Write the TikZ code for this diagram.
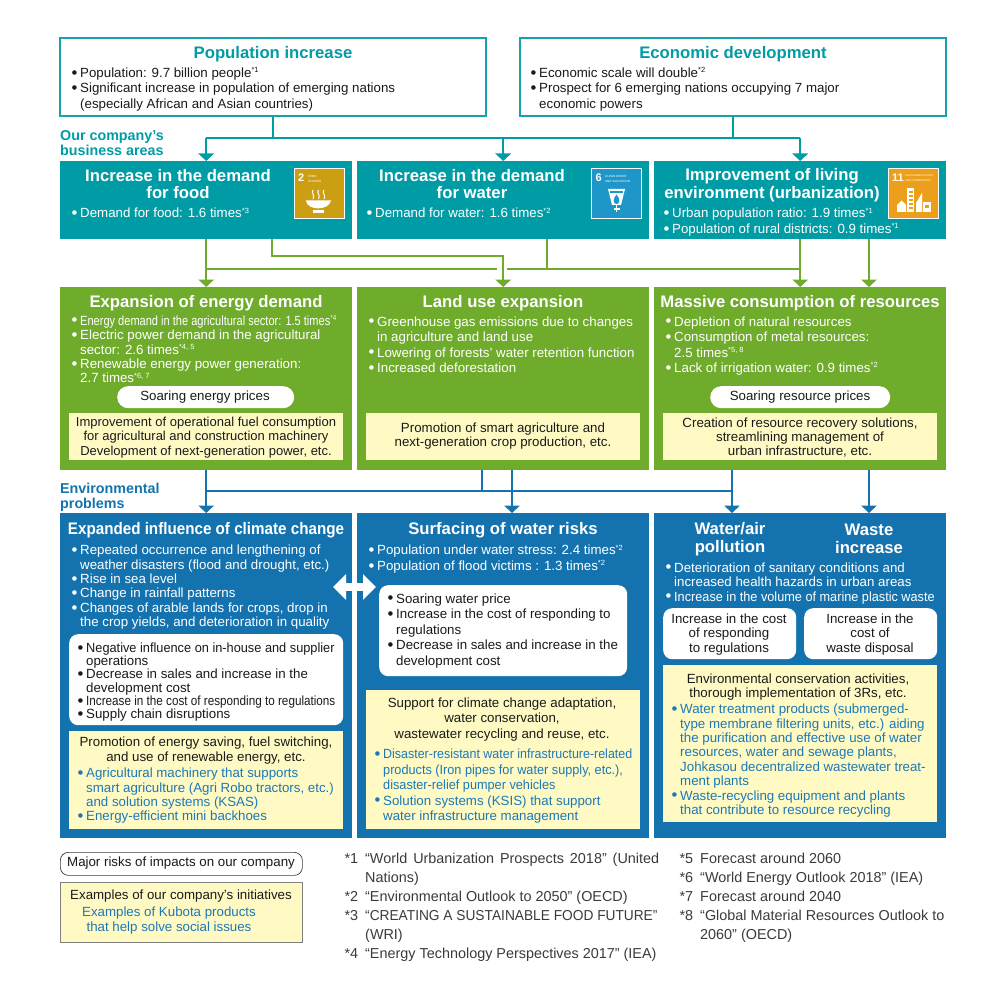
\documentclass[tikz,border=0pt]{standalone}
\usepackage{fontspec}
\setmainfont{Liberation Sans}
\usetikzlibrary{arrows.meta,calc}
\lineskiplimit=-20pt
\definecolor{TealFill}{HTML}{009CA6}
\definecolor{TealLine}{HTML}{15A2AB}
\definecolor{LeafFill}{HTML}{6FAC2B}
\definecolor{SeaFill}{HTML}{1473AF}
\definecolor{NoteCream}{HTML}{FFFAC4}
\definecolor{ProductBlue}{HTML}{1C79B6}
\definecolor{InkDark}{HTML}{1A1A1A}
\definecolor{InkSoft}{HTML}{3A3A3A}
\definecolor{EdgeGrey}{HTML}{808080}
\definecolor{GoalFood}{HTML}{CC9F12}
\definecolor{GoalWater}{HTML}{1E96C8}
\definecolor{GoalCity}{HTML}{EC9F1B}
\newcommand{\blt}{\strut\makebox[0pt][r]{\raisebox{-0.7pt}{\scalebox{1.25}{\textbullet}}\hspace{2.8pt}}}
\newcommand{\nt}[1]{\smash{\raisebox{4.6pt}{\fontsize{7.5}{7.5}\selectfont *#1}}}
\newcommand{\tight}[2][0.9]{\scalebox{#1}[1]{#2}}
\newcommand{\fnote}[1]{\strut\makebox[0pt][r]{*#1\hspace{7pt}}}
\tikzset{
  headbox/.style={draw=TealLine, line width=2pt, fill=white, anchor=north west, inner sep=0pt, minimum width=426pt, minimum height=78pt},
  bandbox/.style={anchor=north west, inner sep=0pt, minimum width=292pt, fill=#1},
  creambox/.style={anchor=north west, inner sep=0pt, fill=NoteCream},
  pillbox/.style={anchor=north west, inner sep=0pt, fill=white, rounded corners=#1},
  pillbox/.default=9pt,
  goalbox/.style={anchor=north west, inner sep=0pt, draw=white, line width=0.8pt, minimum width=50pt, minimum height=50pt, fill=#1},
  goalnum/.style={font=\fontsize{11}{11}\selectfont\bfseries, text=white, anchor=west, inner sep=0pt},
  goaltext/.style={font=\fontsize{#1}{5}\selectfont, text=white, align=left, anchor=west, inner sep=0pt},
  headline/.style={font=\fontsize{16.7}{17.6}\selectfont\bfseries, align=center, inner sep=0pt},
  arealabel/.style={font=\fontsize{14.3}{15.4}\selectfont\bfseries, align=left, anchor=north west, inner sep=0pt},
  bodytext/.style={font=\fontsize{13.3}{#1}\selectfont, align=left, anchor=north west, inner sep=0pt},
  bodytext/.default=14.4,
  centertext/.style={font=\fontsize{13.3}{#1}\selectfont, align=center, inner sep=0pt, text=InkDark},
  centertext/.default=14.4,
  sourcetext/.style={font=\fontsize{14.4}{19}\selectfont, text=InkSoft, align=left, anchor=north west, inner sep=0pt},
  teallink/.style={draw=TealFill, line width=2pt},
  leaflink/.style={draw=LeafFill, line width=2pt},
  sealink/.style={draw=SeaFill, line width=2pt},
  tiparrow/.style={-{Triangle[width=15.5pt,length=7.5pt]}},
}

\begin{document}
\begin{tikzpicture}[x=1pt,y=-1pt]
    \useasboundingbox (0,0) rectangle (1000,1000);

    \node[headbox] (popbox) at (59,37) {};
    \node[headbox] (econbox) at (519,37) {};
    \node[headline, text=TealFill] (poptitle) at (273,54) {Population increase};
    \node[headline, text=TealFill] (econtitle) at (733,54) {Economic development};
    \node[bodytext=15.4, text=InkDark] (poplist) at (80,66.5) {\blt Population: 9.7 billion people\nt{1}\\\blt Significant increase in population of emerging nations\\(especially African and Asian countries)};
    \node[bodytext=15.4, text=InkDark] (econlist) at (539,66.5) {\blt Economic scale will double\nt{2}\\\blt Prospect for 6 emerging nations occupying 7 major\\economic powers};
    \node[arealabel, text=TealFill] (bizlabel) at (60,130) {Our company’s\\business areas};

    \node[bandbox=TealFill, minimum height=78pt] (foodbox) at (60,161) {};
    \node[bandbox=TealFill, minimum height=78pt] (waterbox) at (357,161) {};
    \node[bandbox=TealFill, minimum height=78pt] (urbanbox) at (654,161) {};
    \node[headline, text=white] (foodtitle) at (178,184) {Increase in the demand\\for food};
    \node[headline, text=white] (watertitle) at (472,184) {Increase in the demand\\for water};
    \node[headline, text=white] (urbantitle) at (772,185) {Improvement of living\\environment (urbanization)};
    \node[bodytext=15.4, text=white] (foodlist) at (80,207) {\blt Demand for food: 1.6 times\nt{3}};
    \node[bodytext=15.4, text=white] (waterlist) at (375,207) {\blt Demand for water: 1.6 times\nt{2}};
    \node[bodytext=15.4, text=white] (urbanlist) at (672,207) {\blt Urban population ratio: 1.9 times\nt{1}\\\blt Population of rural districts: 0.9 times\nt{1}};

    \node[goalbox=GoalFood] (goalfood) at (294,168.5) {};
    \node[goalbox=GoalWater] (goalwater) at (591,168.5) {};
    \node[goalbox=GoalCity] (goalcity) at (888,168.5) {};
    \node[goalnum] (goalfoodnum) at (298,178) {2};
    \node[goaltext=3] (goalfoodtext) at (308,178.5) {ZERO\\HUNGER};
    \node[goalnum] (goalwaternum) at (595.5,178) {6};
    \node[goaltext=3] (goalwatertext) at (605,178.5) {CLEAN WATER\\AND SANITATION};
    \node[goalnum] (goalcitynum) at (892,178) {11};
    \node[goaltext=2.7] (goalcitytext) at (905,178.5) {SUSTAINABLE CITIES\\AND COMMUNITIES};
    \fill[white] (306,200.5) .. controls (307,211) and (329,211) .. (331,200.5) -- cycle;
    \fill[white] (313,210) rectangle (324,213);
    \foreach \sx in {313,318.5,324}
      \draw[white, line width=1pt] (\sx,190) .. controls (\sx-2.5,193) and (\sx+2.5,195) .. (\sx,199);
    \fill[white] (608,189) -- (625,189) -- (621,205) -- (612,205) -- cycle;
    \fill[GoalWater] (610,191) rectangle (623,193);
    \fill[GoalWater] (616.5,194.5) .. controls (612.5,199) and (613,204) .. (616.5,204) .. controls (620,204) and (620.5,199) .. (616.5,194.5) -- cycle;
    \draw[white, line width=1.2pt] (616.5,205) -- (616.5,212) (613.5,209) -- (619.5,209);
    \fill[white] (897,212) -- (897,205) -- (901.5,200.5) -- (906,205) -- (906,212) -- cycle;
    \fill[white] (907,212) rectangle (914,188);
    \foreach \wy in {191,195,199,203,207}
      \fill[GoalCity] (908.5,\wy) rectangle (912.5,\wy+2);
    \fill[white] (916,212) -- (916,203) -- (922,193) -- (922,212) -- cycle;
    \fill[white] (923,212) rectangle (931,202);
    \fill[GoalCity] (925,205) rectangle (929,208);

    \node[bandbox=LeafFill, minimum height=183pt] (energybox) at (60,287) {};
    \node[bandbox=LeafFill, minimum height=183pt] (landbox) at (357,287) {};
    \node[bandbox=LeafFill, minimum height=183pt] (resourcebox) at (654,287) {};
    \node[headline, text=white] (energytitle) at (206,303) {Expansion of energy demand};
    \node[headline, text=white] (landtitle) at (503,303) {Land use expansion};
    \node[headline, text=white] (resourcetitle) at (800,303) {Massive consumption of resources};
    \node[bodytext, text=white] (energylist) at (80,315) {\blt\tight[0.83]{Energy demand in the agricultural sector: 1.5 times\nt{4}}\\\blt Electric power demand in the agricultural\\sector: 2.6 times\nt{4, 5}\\\blt Renewable energy power generation:\\2.7 times\nt{6, 7}};
    \node[bodytext=15.5, text=white] (landlist) at (377,315) {\blt Greenhouse gas emissions due to changes\\in agriculture and land use\\\blt Lowering of forests’ water retention function\\\blt Increased deforestation};
    \node[bodytext=15.5, text=white] (resourcelist) at (674,315) {\blt Depletion of natural resources\\\blt Consumption of metal resources:\\2.5 times\nt{5, 8}\\\blt Lack of irrigation water: 0.9 times\nt{2}};
    \node[pillbox=11pt, minimum width=177pt, minimum height=22pt] (energypill) at (117,386) {};
    \node[pillbox=11pt, minimum width=180pt, minimum height=22pt] (resourcepill) at (710,386) {};
    \node[centertext] (energypilltext) at (205,397) {Soaring energy prices};
    \node[centertext] (resourcepilltext) at (800,397) {Soaring resource prices};
    \node[creambox, minimum width=274pt, minimum height=47pt] (energynote) at (69,413) {};
    \node[creambox, minimum width=274pt, minimum height=47pt] (landnote) at (366,413) {};
    \node[creambox, minimum width=274pt, minimum height=47pt] (resourcenote) at (663,413) {};
    \node[centertext, font=\fontsize{13}{14.4}\selectfont] (energynotetext) at (206,437.5) {Improvement of operational fuel consumption\\for agricultural and construction machinery\\Development of next-generation power, etc.};
    \node[centertext] (landnotetext) at (503,436) {Promotion of smart agriculture and\\next-generation crop production, etc.};
    \node[centertext] (resourcenotetext) at (800,437.5) {Creation of resource recovery solutions,\\streamlining management of\\urban infrastructure, etc.};
    \node[arealabel, text=SeaFill] (envlabel) at (60,482.5) {Environmental\\problems};

    \node[bandbox=SeaFill, minimum height=325pt] (climatebox) at (60,513) {};
    \node[bandbox=SeaFill, minimum height=325pt] (riskbox) at (357,513) {};
    \node[bandbox=SeaFill, minimum height=325pt] (pollutebox) at (654,513) {};
    \node[headline, text=white] (climatetitle) at (206,530) {\tight[0.91]{Expanded influence of climate change}};
    \node[headline, text=white] (risktitle) at (503,530) {Surfacing of water risks};
    \node[headline, text=white] (pollutetitle) at (730,539) {Water/air\\pollution};
    \node[headline, text=white] (wastetitle) at (869,539) {Waste\\increase};
    \node[bodytext, text=white] (climatelist) at (80,544.5) {\blt Repeated occurrence and lengthening of\\weather disasters (flood and drought, etc.)\\\blt Rise in sea level\\\blt Change in rainfall patterns\\\blt Changes of arable lands for crops, drop in\\the crop yields, and deterioration in quality};
    \node[bodytext=15.4, text=white] (risklist) at (377,544) {\blt Population under water stress: 2.4 times\nt{2}\\\blt Population of flood victims : 1.3 times\nt{2}};
    \node[bodytext, text=white] (pollutelist) at (674,562) {\blt Deterioration of sanitary conditions and\\increased health hazards in urban areas\\\blt\tight[0.955]{Increase in the volume of marine plastic waste}};

    \node[pillbox, minimum width=274pt, minimum height=91pt] (climatepill) at (69,634) {};
    \node[pillbox, minimum width=248pt, minimum height=91pt] (riskpill) at (379,585) {};
    \node[pillbox, minimum width=133pt, minimum height=51pt] (pollutepill) at (663,608) {};
    \node[pillbox, minimum width=133pt, minimum height=51pt] (wastepill) at (804,608) {};
    \node[bodytext=13.3, text=InkDark] (climatepilltext) at (86,642.5) {\blt\tight[0.96]{Negative influence on in-house and supplier}\\operations\\\blt Decrease in sales and increase in the\\development cost\\\blt\tight[0.88]{Increase in the cost of responding to regulations}\\\blt Supply chain disruptions};
    \node[bodytext=15.5, text=InkDark] (riskpilltext) at (396,592) {\blt Soaring water price\\\blt Increase in the cost of responding to\\regulations\\\blt Decrease in sales and increase in the\\development cost};
    \node[centertext] (pollutepilltext) at (729,634.5) {Increase in the cost\\of responding\\to regulations};
    \node[centertext] (wastepilltext) at (870,634.5) {Increase in the\\cost of\\waste disposal};

    \node[creambox, minimum width=274pt, minimum height=98pt] (climatenote) at (69,731) {};
    \node[creambox, minimum width=274pt, minimum height=139pt] (risknote) at (366,690) {};
    \node[creambox, minimum width=274pt, minimum height=157pt] (pollutenote) at (663,665) {};
    \node[centertext] (climatenotetext) at (206,750.5) {Promotion of energy saving, fuel switching,\\and use of renewable energy, etc.};
    \node[centertext=15.5] (risknotetext) at (502,719.5) {Support for climate change adaptation,\\water conservation,\\wastewater recycling and reuse, etc.};
    \node[centertext] (pollutenotetext) at (798,687) {Environmental conservation activities,\\thorough implementation of 3Rs, etc.};
    \node[bodytext, text=ProductBlue] (climateitems) at (86,767.5) {\blt Agricultural machinery that supports\\smart agriculture (Agri Robo tractors, etc.)\\and solution systems (KSAS)\\\blt Energy-efficient mini backhoes};
    \node[bodytext=15.5, text=ProductBlue] (riskitems) at (383,747.5) {\blt\tight[0.936]{Disaster-resistant water infrastructure-related}\\\tight[0.955]{products (Iron pipes for water supply, etc.),}\\\tight[0.955]{disaster-relief pumper vehicles}\\\blt Solution systems (KSIS) that support\\water infrastructure management};
    \node[bodytext, text=ProductBlue] (polluteitems) at (680,703.5) {\blt Water treatment products (submerged-\\type membrane filtering units, etc.) aiding\\the purification and effective use of water\\resources, water and sewage plants,\\Johkasou decentralized wastewater treat-\\ment plants\\\blt Waste-recycling equipment and plants\\that contribute to resource recycling};

    \coordinate (climateend) at (333,587);
    \coordinate (riskend) at (376,587);
    \draw[white, line width=8pt, {Triangle[width=25pt,length=13pt]}-{Triangle[width=25pt,length=13pt]}] (climateend) -- (riskend);

    \coordinate (tealbus) at (0,138);
    \draw[teallink] (popbox.south) -- (popbox.south |- tealbus);
    \draw[teallink] (econbox.south) -- (econbox.south |- tealbus);
    \draw[teallink] (foodbox.north |- tealbus) -- (urbanbox.north |- tealbus);
    \draw[teallink, tiparrow] (foodbox.north |- tealbus) -- (foodbox.north);
    \draw[teallink, tiparrow] (waterbox.north |- tealbus) -- (waterbox.north);
    \draw[teallink, tiparrow] (urbanbox.north |- tealbus) -- (urbanbox.north);

    \coordinate (leafbus) at (0,269);
    \coordinate (landbus) at (0,256);
    \coordinate (foodtap) at (272,239);
    \coordinate (watertap) at (547,239);
    \coordinate (urbantap) at (869,239);
    \draw[leaflink, tiparrow] (foodbox.south) -- (energybox.north);
    \draw[leaflink] (foodbox.south |- leafbus) -- ($(landbox.north |- leafbus)+(-6,0)$);
    \draw[leaflink] ($(landbox.north |- leafbus)+(4,0)$) -- (urbanbox.south |- leafbus);
    \draw[leaflink, tiparrow] (foodtap) -- (foodtap |- landbus) -| (landbox.north);
    \draw[leaflink] (watertap) -- (watertap |- leafbus);
    \draw[leaflink, tiparrow] (urbanbox.south) -- (resourcebox.north);
    \draw[leaflink, tiparrow] (urbantap) -- (urbantap |- resourcebox.north);

    \coordinate (seabus) at (0,491);
    \coordinate (landtap) at (482,470);
    \coordinate (landdrop) at (512,470);
    \coordinate (resourcetap) at (732,470);
    \coordinate (wastetap) at (869,470);
    \draw[sealink, tiparrow] (energybox.south) -- (climatebox.north);
    \draw[sealink] (landtap) -- (landtap |- seabus);
    \draw[sealink] (energybox.south |- seabus) -- (resourcetap |- seabus);
    \draw[sealink, tiparrow] (landdrop) -- (landdrop |- riskbox.north);
    \draw[sealink, tiparrow] (resourcetap) -- (resourcetap |- pollutebox.north);
    \draw[sealink, tiparrow] (wastetap) -- (wastetap |- pollutebox.north);

    \node[draw=InkSoft, line width=0.7pt, fill=white, rounded corners=8pt, anchor=north west, inner sep=0pt, minimum width=242pt, minimum height=23pt] (riskkey) at (60,852) {};
    \node[centertext] (riskkeytext) at (181,863) {Major risks of impacts on our company};
    \node[draw=EdgeGrey, line width=0.8pt, fill=NoteCream, anchor=north west, inner sep=0pt, minimum width=242pt, minimum height=60pt] (notekey) at (60,882) {};
    \node[centertext] (notekeytext) at (181,896) {Examples of our company’s initiatives};
    \node[centertext=15.4, text=ProductBlue] (itemkeytext) at (169,920.5) {Examples of Kubota products\\that help solve social issues};

    \node[sourcetext] (notesleft) at (365,850) {\fnote{1}\makebox[294pt][s]{“World Urbanization Prospects 2018” (United}\\Nations)\\\fnote{2}“Environmental Outlook to 2050” (OECD)\\\fnote{3}\tight[0.953]{“CREATING A SUSTAINABLE FOOD FUTURE”}\\(WRI)\\\fnote{4}“Energy Technology Perspectives 2017” (IEA)};
    \node[sourcetext] (notesright) at (700,850) {\fnote{5}Forecast around 2060\\\fnote{6}“World Energy Outlook 2018” (IEA)\\\fnote{7}Forecast around 2040\\\fnote{8}“Global Material Resources Outlook to\\2060” (OECD)};
\end{tikzpicture}
\end{document}
